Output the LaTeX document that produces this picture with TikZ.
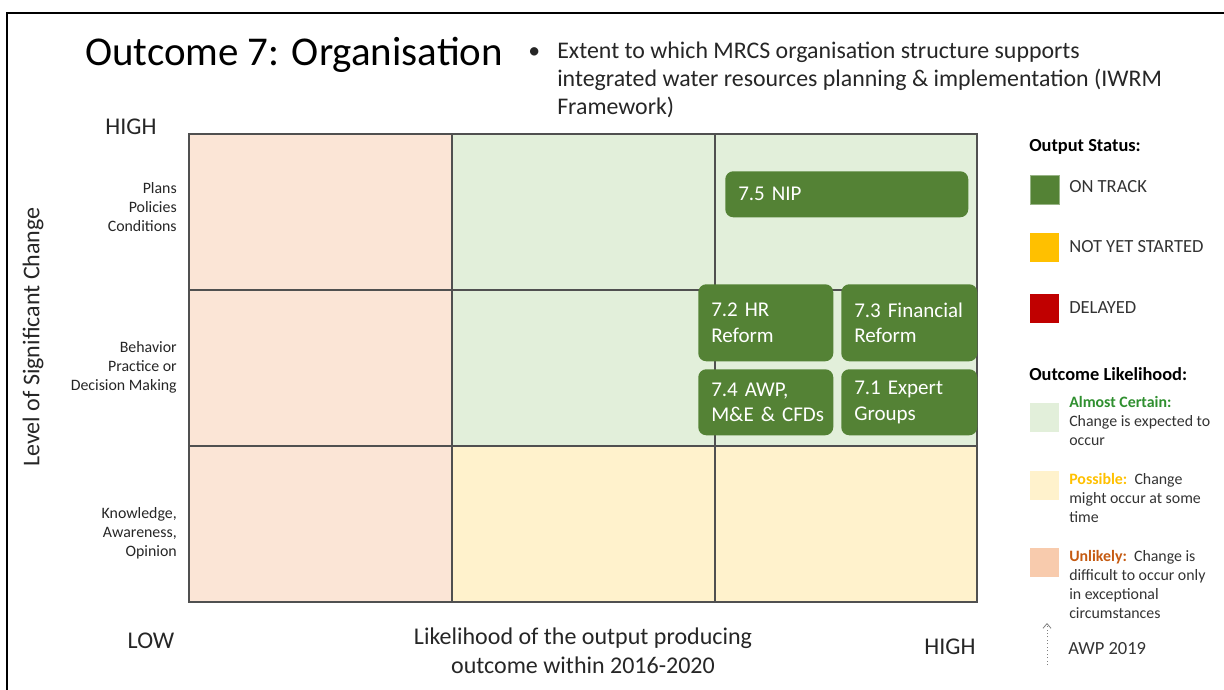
\documentclass[tikz,border=0pt]{standalone}
\usepackage{fontspec}
\setmainfont{Carlito}
\usetikzlibrary{arrows.meta}
\definecolor{cpeach}{HTML}{FBE5D6}
\definecolor{clgreen}{HTML}{E2EFDA}
\definecolor{clyellow}{HTML}{FFF2CC}
\definecolor{cdgreen}{HTML}{548235}
\definecolor{cyellow}{HTML}{FFC000}
\definecolor{cred}{HTML}{C00000}
\definecolor{clpeach}{HTML}{F8CBAD}
\definecolor{cunl}{HTML}{C55A11}
\definecolor{calm}{HTML}{2F8F2F}
\definecolor{cgrid}{HTML}{505050}
\definecolor{ctext}{HTML}{262626}
\definecolor{cleg}{HTML}{333333}
\begin{document}
\begin{tikzpicture}[x=0.75pt,y=-0.75pt,
  gbox/.style={fill=cdgreen, rounded corners=6pt, text=white, inner xsep=9.75pt, inner ysep=0pt,
    align=left, anchor=north west, font=\fontsize{15.75}{19.2}\selectfont},
  big/.style={font=\fontsize{18}{21.8}\selectfont, text=ctext, inner sep=0pt},
  rowlab/.style={font=\fontsize{11.9}{14.25}\selectfont, text=ctext, align=right, anchor=east, inner sep=0pt},
  legt/.style={font=\fontsize{11.9}{14.25}\selectfont, text=cleg, align=left, anchor=west, inner sep=0pt},
  legs/.style={font=\fontsize{13.9}{16}\selectfont, text=cleg, anchor=west, inner sep=0pt},
  legh/.style={font=\fontsize{13.8}{16}\selectfont\bfseries, text=black, anchor=west, inner sep=0pt},
  sq/.style={minimum width=21.75pt, minimum height=21.75pt, inner sep=0pt, anchor=north west}
]
\useasboundingbox (0,0) rectangle (1224,689);
% frame
\draw[line width=1.5pt, black] (7,700) -- (7,13) -- (1230,13);
% grid cells
\fill[cpeach] (189,134) rectangle (452,602);
\fill[clgreen] (452,134) rectangle (977,446);
\fill[clyellow] (452,446) rectangle (977,602);
\draw[cgrid, line width=1.1pt] (189,134) rectangle (977,602);
\draw[cgrid, line width=1.1pt] (452,134) -- (452,602) (715,134) -- (715,602)
  (189,290) -- (977,290) (189,446) -- (977,446);
% title
\node[anchor=base west, inner sep=0pt, font=\fontsize{30.7}{36}\selectfont, text=black] (title) at (85,65) {Outcome 7: Organisation};
\node[anchor=base west, inner sep=0pt, font=\fontsize{17.8}{21}\selectfont, text=ctext] (bul) at (528,58) {\textbullet};
\node[anchor=west, inner sep=0pt, align=left, font=\fontsize{17.9}{21.2}\selectfont, text=ctext] (sub) at (557,80)
  {Extent to which MRCS organisation structure supports\\integrated water resources planning \& implementation (IWRM\\Framework)};
% axis labels
\node[big] (hightop) at (131,127) {HIGH};
\node[big] (low) at (151,641) {LOW};
\node[big] (highbot) at (950,647) {HIGH};
\node[big, align=center] (xlab) at (583,651) {Likelihood of the output producing\\outcome within 2016-2020};
\node[big, rotate=90] (ylab) at (33,337) {Level of Significant Change};
% row labels
\node[rowlab] (r1) at (177,207) {Plans\\Policies\\Conditions};
\node[rowlab] (r2) at (177,367) {Behavior\\Practice or\\Decision Making};
\node[rowlab] (r3) at (177,533) {Knowledge,\\Awareness,\\Opinion};
% output boxes
\node[gbox, text width=162.75pt, minimum height=34.5pt] (b75) at (725,171) {7.5 NIP};
\node[gbox, text width=81.75pt, minimum height=57.75pt] (b72) at (698,284) {7.2 HR\\Reform};
\node[gbox, text width=82.5pt, minimum height=57.75pt] (b73) at (841,284) {\mbox{7.3 Financial}\\Reform};
\node[gbox, text width=81.75pt, minimum height=49.5pt] (b74) at (698,369) {\mbox{7.4 AWP,}\\\mbox{M\&E \& CFDs}};
\node[gbox, text width=82.5pt, minimum height=49.5pt] (b71) at (841,369) {7.1 Expert\\Groups};
% legend output status
\node[legh] (lh1) at (1029,147) {Output Status:};
\node[sq, fill=cdgreen, draw=cdgreen!60, line width=0.4pt] (s1) at (1030,175) {};
\node[sq, fill=cyellow] (s2) at (1030,233) {};
\node[sq, fill=cred] (s3) at (1030,294) {};
\node[legs] (t1) at (1069,187) {ON TRACK};
\node[legs] (t2) at (1069,247) {NOT YET STARTED};
\node[legs] (t3) at (1069,308) {DELAYED};
% legend outcome likelihood
\node[legh] (lh2) at (1029,374) {Outcome Likelihood:};
\node[sq, fill=clgreen] (s4) at (1030,403) {};
\node[sq, fill=clyellow] (s5) at (1030,471) {};
\node[sq, fill=clpeach] (s6) at (1030,548) {};
\node[legt] (t4) at (1069,421) {\textcolor{calm}{\bfseries Almost Certain:}\\Change is expected to\\occur};
\node[legt] (t5) at (1069,498) {\textcolor{cyellow}{\bfseries Possible:}\ \ Change\\might occur at some\\time};
\node[legt] (t6) at (1069,584.5) {\textcolor{cunl}{\bfseries Unlikely:}\ \ Change is\\difficult to occur only\\in exceptional\\circumstances};
% AWP arrow
\coordinate (a1) at (1047,665);
\coordinate (a2) at (1047,623);
\draw[gray, dotted, line width=0.6pt, -{Straight Barb[length=3.5pt,width=6pt]}] (a1) -- (a2);
\node[legs] (awp) at (1068,649) {AWP 2019};
\end{tikzpicture}
\end{document}
